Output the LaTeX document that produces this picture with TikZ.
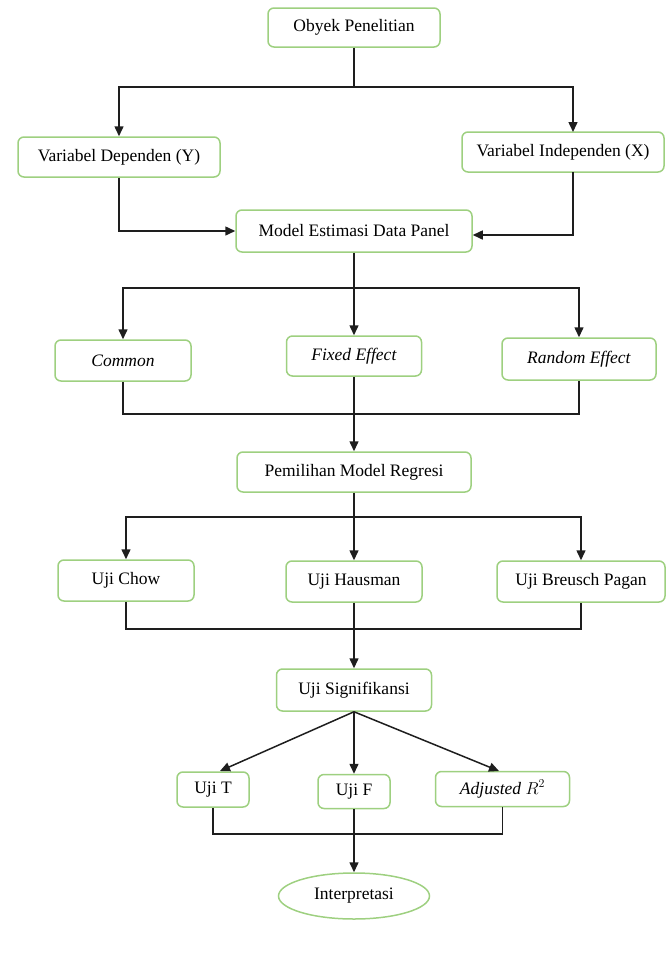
\documentclass[tikz,border=0pt]{standalone}
\usepackage{fontspec}
\setmainfont{Liberation Serif}
\usetikzlibrary{arrows.meta,shapes.geometric,calc}
\definecolor{boxgreen}{RGB}{158,208,128}
\definecolor{linegray}{RGB}{30,30,30}
\tikzset{
  box/.style={draw=boxgreen,line width=1.5pt,rounded corners=6pt,fill=white,
    inner sep=0pt,align=center,text=black},
  oval/.style={draw=boxgreen,line width=1.5pt,ellipse,inner sep=0pt,text=black},
  conn/.style={draw=linegray,line width=1.5pt},
  arr/.style={conn,-{Triangle[length=10pt,width=9pt]}},
}
\begin{document}
\begin{tikzpicture}[x=1pt,y=-1pt,font=\fontsize{17.5}{20}\selectfont]
\useasboundingbox (0,0) rectangle (666,953);
% nodes
\node[box,minimum width=172pt,minimum height=39pt] (obj) at (354,27.5) {Obyek Penelitian};
\node[box,minimum width=202pt,minimum height=40pt] (dep) at (119,157) {Variabel Dependen (Y)};
\node[box,minimum width=202pt,minimum height=40pt] (ind) at (563,152) {Variabel Independen (X)};
\node[box,minimum width=236pt,minimum height=42pt] (model) at (354,231) {Model Estimasi Data Panel};
\node[box,minimum width=136pt,minimum height=41pt] (com) at (123,360.5) {\textit{Common}};
\node[box,minimum width=135pt,minimum height=40pt] (fix) at (354,356) {\textit{Fixed Effect}};
\node[box,minimum width=154pt,minimum height=42pt] (ran) at (579,359) {\textit{Random Effect}};
\node[box,minimum width=234pt,minimum height=40pt] (pem) at (354,472) {Pemilihan Model Regresi};
\node[box,minimum width=136pt,minimum height=41pt] (chow) at (126,580.5) {Uji Chow};
\node[box,minimum width=136pt,minimum height=41pt] (haus) at (354,581.5) {Uji Hausman};
\node[box,minimum width=168pt,minimum height=41pt] (breu) at (581,581.5) {Uji Breusch Pagan};
\node[box,minimum width=155pt,minimum height=42pt] (sig) at (354,690) {Uji Signifikansi};
\node[box,minimum width=72pt,minimum height=35pt] (ujit) at (213,789.5) {Uji T};
\node[box,minimum width=72pt,minimum height=34pt] (ujif) at (354,791.5) {Uji F};
\node[box,minimum width=134pt,minimum height=35pt] (adj) at (502.5,789) {\textit{Adjusted} $R^2$};
\node[oval,minimum width=151pt,minimum height=46pt] (interp) at (354,896) {Interpretasi};
% helper coordinates
\coordinate (s1) at (354,87);
\coordinate (indIn) at (573,132);
\coordinate (indOut) at (573,172);
\coordinate (s2) at (354,288);
\coordinate (m2) at (0,414);
\coordinate (s3) at (354,517);
\coordinate (m3) at (0,629);
\coordinate (tIn) at (220,771);
\coordinate (aIn) at (499,771);
\coordinate (m4) at (0,834);
% connectors
\draw[conn] (obj.south) -- (s1);
\draw[arr] (s1) -| (dep.north);
\draw[arr] (s1) -| (indIn);
\draw[arr] (dep.south) |- (model.west);
\draw[arr] (indOut) |- ($(model.east)+(0,4)$);
\draw[conn] (model.south) -- (s2);
\draw[arr] (s2) -| (com.north);
\draw[arr] (s2) -- (fix.north);
\draw[arr] (s2) -| (ran.north);
\draw[conn] (com.south) |- (ran.south |- m2) -- (ran.south);
\draw[arr] (fix.south) -- (pem.north);
\draw[conn] (pem.south) -- (s3);
\draw[arr] (s3) -| (chow.north);
\draw[arr] (s3) -- (haus.north);
\draw[arr] (s3) -| (breu.north);
\draw[conn] (chow.south) |- (breu.south |- m3) -- (breu.south);
\draw[arr] (haus.south) -- (sig.north);
\draw[arr] (sig.south) -- (tIn);
\draw[arr] (sig.south) -- (ujif.north);
\draw[arr] (sig.south) -- (aIn);
\draw[conn] (ujit.south) |- (adj.south |- m4) -- (adj.south);
\draw[arr] (ujif.south) -- (interp.north);
\end{tikzpicture}
\end{document}
